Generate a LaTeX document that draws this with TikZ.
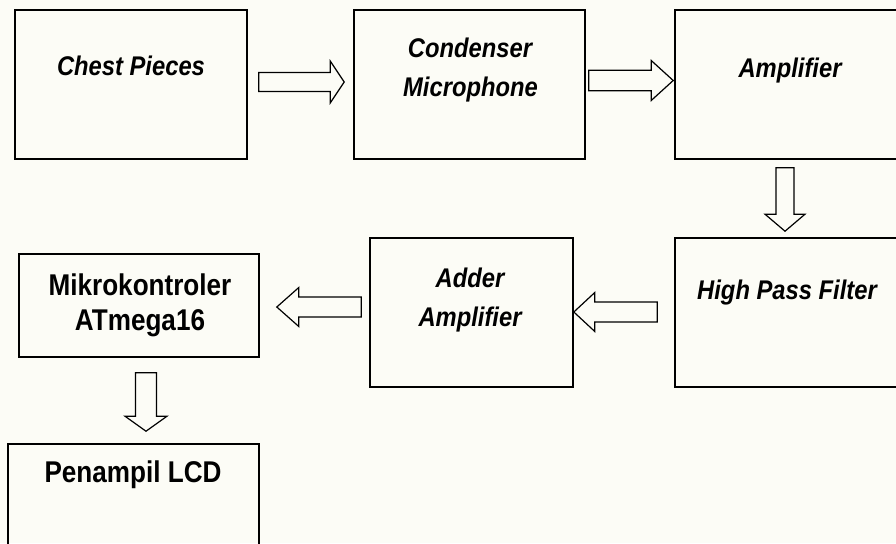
\documentclass[tikz,border=0pt]{standalone}
\usepackage{fontspec}
\usetikzlibrary{calc}
\newfontfamily\itfont{Liberation Sans}[FakeStretch=0.88]
\newfontfamily\upfont{Liberation Sans}[FakeStretch=0.87]
\definecolor{bgcol}{HTML}{FCFCF6}
\newcommand\blockarrow[5]{%
  \path (#1) coordinate (ba-s) (#2) coordinate (ba-t);
  \path ($(ba-t)!#5!(ba-s)$) coordinate (ba-b);
  \draw[blockarr] ($(ba-s)!#3!90:(ba-t)$) -- ($(ba-b)!#3!-90:(ba-s)$) -- ($(ba-b)!#4!-90:(ba-s)$) -- (ba-t) -- ($(ba-b)!#4!90:(ba-s)$) -- ($(ba-b)!#3!90:(ba-s)$) -- ($(ba-s)!#3!-90:(ba-t)$) -- cycle;
}
\tikzset{
  box/.style={draw=black, line width=1.6pt, rectangle, inner sep=0pt},
  blockarr/.style={draw=black, line width=1.2pt, line join=miter},
  itl/.style={font={\fontsize{27pt}{30pt}\itfont\bfseries\itshape}, inner sep=0pt, anchor=base},
  upl/.style={font={\fontsize{30pt}{32pt}\upfont\bfseries}, inner sep=0pt, anchor=base},
}
\begin{document}
\begin{tikzpicture}[x=1pt, y=-1pt]
\useasboundingbox (0,0) rectangle (896,543);
\fill[bgcol] (0,0) rectangle (896,543);
\clip (0,0) rectangle (896,543);
% boxes
\node[box, minimum width=232pt, minimum height=149pt] (chest) at (131,84.5) {};
\node[box, minimum width=231pt, minimum height=149pt] (cond) at (469.5,84.5) {};
\node[box, minimum width=232pt, minimum height=149pt] (amp) at (791,84.5) {};
\node[box, minimum width=232pt, minimum height=149pt] (hpf) at (791,312.5) {};
\node[box, minimum width=203pt, minimum height=149pt] (adder) at (471.5,312.5) {};
\node[box, minimum width=240pt, minimum height=103pt] (mikro) at (139,305.5) {};
\node[box, minimum width=251pt, minimum height=149pt] (lcd) at (133.5,518.5) {};
% texts
\node[itl] (t-chest) at ($(chest.north)+(0,66.7)$) {Chest Pieces};
\node[itl] (t-cond1) at ($(cond.north)+(0.5,48.3)$) {Condenser};
\node[itl] (t-cond2) at ($(cond.north)+(1,87.7)$) {Microphone};
\node[itl] (t-amp) at ($(amp.north)+(-1,68)$) {Amplifier};
\node[itl] (t-hpf) at ($(hpf.north)+(-4,62)$) {High Pass Filter};
\node[itl] (t-add1) at ($(adder.north)+(-1.5,50)$) {Adder};
\node[itl] (t-add2) at ($(adder.north)+(-1.5,89)$) {Amplifier};
\node[upl] (t-mik1) at ($(mikro.north)+(1,42.7)$) {Mikrokontroler};
\node[upl] (t-mik2) at ($(mikro.north)+(1,77.7)$) {ATmega16};
\node[upl] (t-lcd) at ($(lcd.north)+(-0.5,39.3)$) {Penampil LCD};
% block arrows
\blockarrow{$(chest.east)+(11,-2.5)$}{$(cond.west)+(-9,-2.5)$}{9.5pt}{21pt}{14pt}
\blockarrow{$(cond.east)+(3,-4)$}{$(amp.west)+(-1,-4)$}{10.3pt}{20pt}{22pt}
\blockarrow{$(amp.south)+(-6,8)$}{$(hpf.north)+(-6,-6)$}{9pt}{20pt}{17pt}
\blockarrow{$(hpf.west)+(-17,-0.5)$}{$(adder.east)+(0,-0.5)$}{10pt}{19.5pt}{21pt}
\blockarrow{$(adder.west)+(-8,-5.5)$}{$(mikro.east)+(17,1.5)$}{10pt}{19.5pt}{22pt}
\blockarrow{$(mikro.south)+(7,15)$}{$(lcd.north)+(12.5,-12)$}{10.5pt}{21pt}{15pt}
\end{tikzpicture}
\end{document}
